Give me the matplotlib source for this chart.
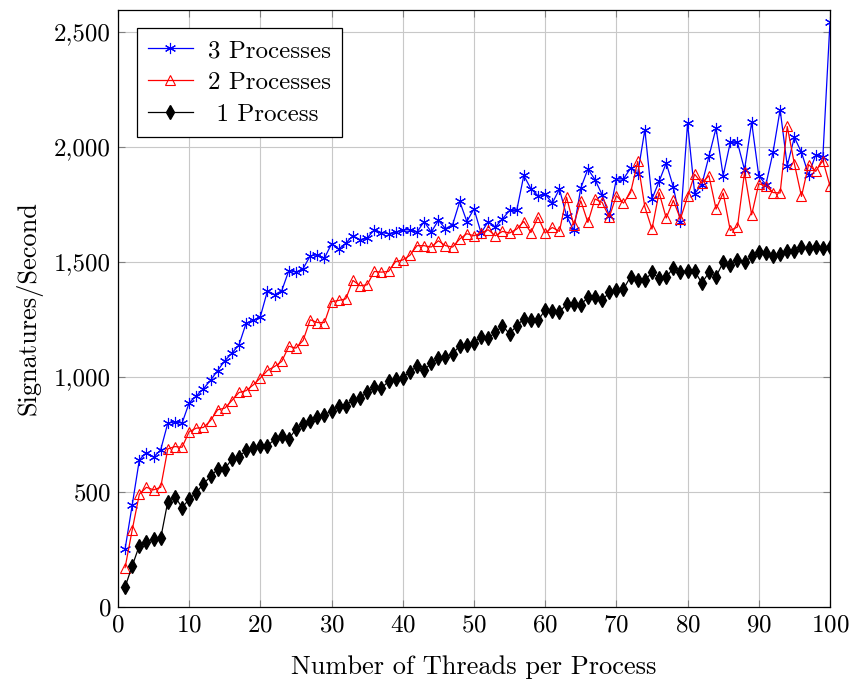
import matplotlib
matplotlib.use("Agg")

import matplotlib.pyplot as plt
from matplotlib.ticker import FuncFormatter

plt.rcParams["font.family"] = ["cmr10", "DejaVu Serif"]
plt.rcParams["mathtext.fontset"] = "cm"
plt.rcParams["axes.formatter.use_mathtext"] = True

threads = list(range(1, 101))

three_proc = [252, 443, 639, 671, 651, 683, 799, 804, 799, 887,
              917, 948, 985, 1027, 1070, 1103, 1139, 1233, 1245, 1262,
              1374, 1357, 1374, 1462, 1455, 1470, 1526, 1530, 1516, 1578,
              1555, 1581, 1613, 1596, 1603, 1639, 1627, 1622, 1629, 1639,
              1639, 1629, 1675, 1629, 1680, 1644, 1661, 1762, 1675, 1730,
              1625, 1675, 1651, 1686, 1723, 1723, 1875, 1817, 1787, 1794,
              1755, 1816, 1700, 1636, 1820, 1903, 1857, 1791, 1700, 1860,
              1860, 1907, 1883, 2074, 1773, 1849, 1929, 1825, 1675, 2102,
              1796, 1835, 1958, 2081, 1874, 2019, 2019, 1900, 2106, 1874,
              1835, 1975, 2161, 1917, 2041, 1975, 1878, 1965, 1955, 2541]

two_proc = [171, 335, 490, 520, 509, 520, 687, 697, 694, 762,
            777, 780, 810, 857, 864, 897, 932, 940, 965, 995,
            1028, 1045, 1067, 1133, 1125, 1158, 1248, 1236, 1236, 1327,
            1332, 1339, 1419, 1396, 1400, 1458, 1455, 1458, 1501, 1508,
            1528, 1570, 1570, 1564, 1591, 1570, 1564, 1599, 1622, 1613,
            1625, 1639, 1613, 1632, 1625, 1642, 1675, 1627, 1694, 1625,
            1649, 1632, 1781, 1661, 1765, 1671, 1773, 1758, 1694, 1787,
            1755, 1801, 1936, 1738, 1642, 1801, 1690, 1767, 1686, 1784,
            1880, 1842, 1874, 1729, 1799, 1636, 1651, 1888, 1704, 1839,
            1830, 1801, 1799, 2088, 1926, 1784, 1922, 1893, 1940, 1830]

one_proc = [87, 178, 267, 284, 296, 299, 458, 480, 432, 468,
            497, 535, 567, 599, 601, 642, 653, 680, 690, 701,
            700, 729, 741, 730, 773, 796, 809, 827, 835, 852,
            875, 875, 900, 907, 936, 954, 951, 980, 991, 996,
            1023, 1045, 1030, 1059, 1081, 1088, 1100, 1135, 1139, 1149,
            1175, 1168, 1193, 1222, 1187, 1222, 1252, 1245, 1245, 1291,
            1284, 1280, 1317, 1317, 1313, 1346, 1346, 1332, 1367, 1378,
            1381, 1436, 1419, 1419, 1454, 1429, 1433, 1473, 1454, 1462,
            1460, 1407, 1454, 1436, 1497, 1487, 1509, 1497, 1523, 1541,
            1536, 1523, 1535, 1545, 1545, 1564, 1559, 1564, 1559, 1564]

fig = plt.figure(figsize=(8.53, 6.82), dpi=100)
ax = fig.add_axes([0.1383, 0.110, 0.8347, 0.876])

ax.plot(threads, three_proc, color="blue", lw=0.9, marker=(6, 2, 0),
        markersize=8, markeredgewidth=0.8, label="3 Processes")
ax.plot(threads, two_proc, color="red", lw=0.9, marker="^", fillstyle="none",
        markersize=7, markeredgewidth=0.8, label="2 Processes")
ax.plot(threads, one_proc, color="black", lw=0.9, marker="d",
        markersize=7, label=" 1 Process")

ax.set_xlim(0, 100)
ax.set_ylim(0, 2596)
ax.set_xticks(range(0, 101, 10))
ax.set_yticks(range(0, 2501, 500))
ax.yaxis.set_major_formatter(FuncFormatter(lambda v, p: f"{int(v):,}"))
ax.grid(True, color="#c8c8c8", lw=0.8)
ax.set_axisbelow(True)
ax.tick_params(direction="in", top=True, right=True, labelsize=18, length=5,
               color="#808080", pad=5)
for s in ax.spines.values():
    s.set_linewidth(0.9)

ax.set_xlabel("Number of Threads per Process", fontsize=19, labelpad=14)
ax.set_ylabel("Signatures/Second", fontsize=19, labelpad=8)

leg = ax.legend(loc="upper left", fontsize=18, frameon=True, fancybox=False,
                edgecolor="black", framealpha=1, borderaxespad=0.75,
                handlelength=1.8, labelspacing=0.38, handletextpad=0.6,
                borderpad=0.45)
leg.get_frame().set_linewidth(0.9)

plt.savefig("out.png", dpi=100)
plt.close()
